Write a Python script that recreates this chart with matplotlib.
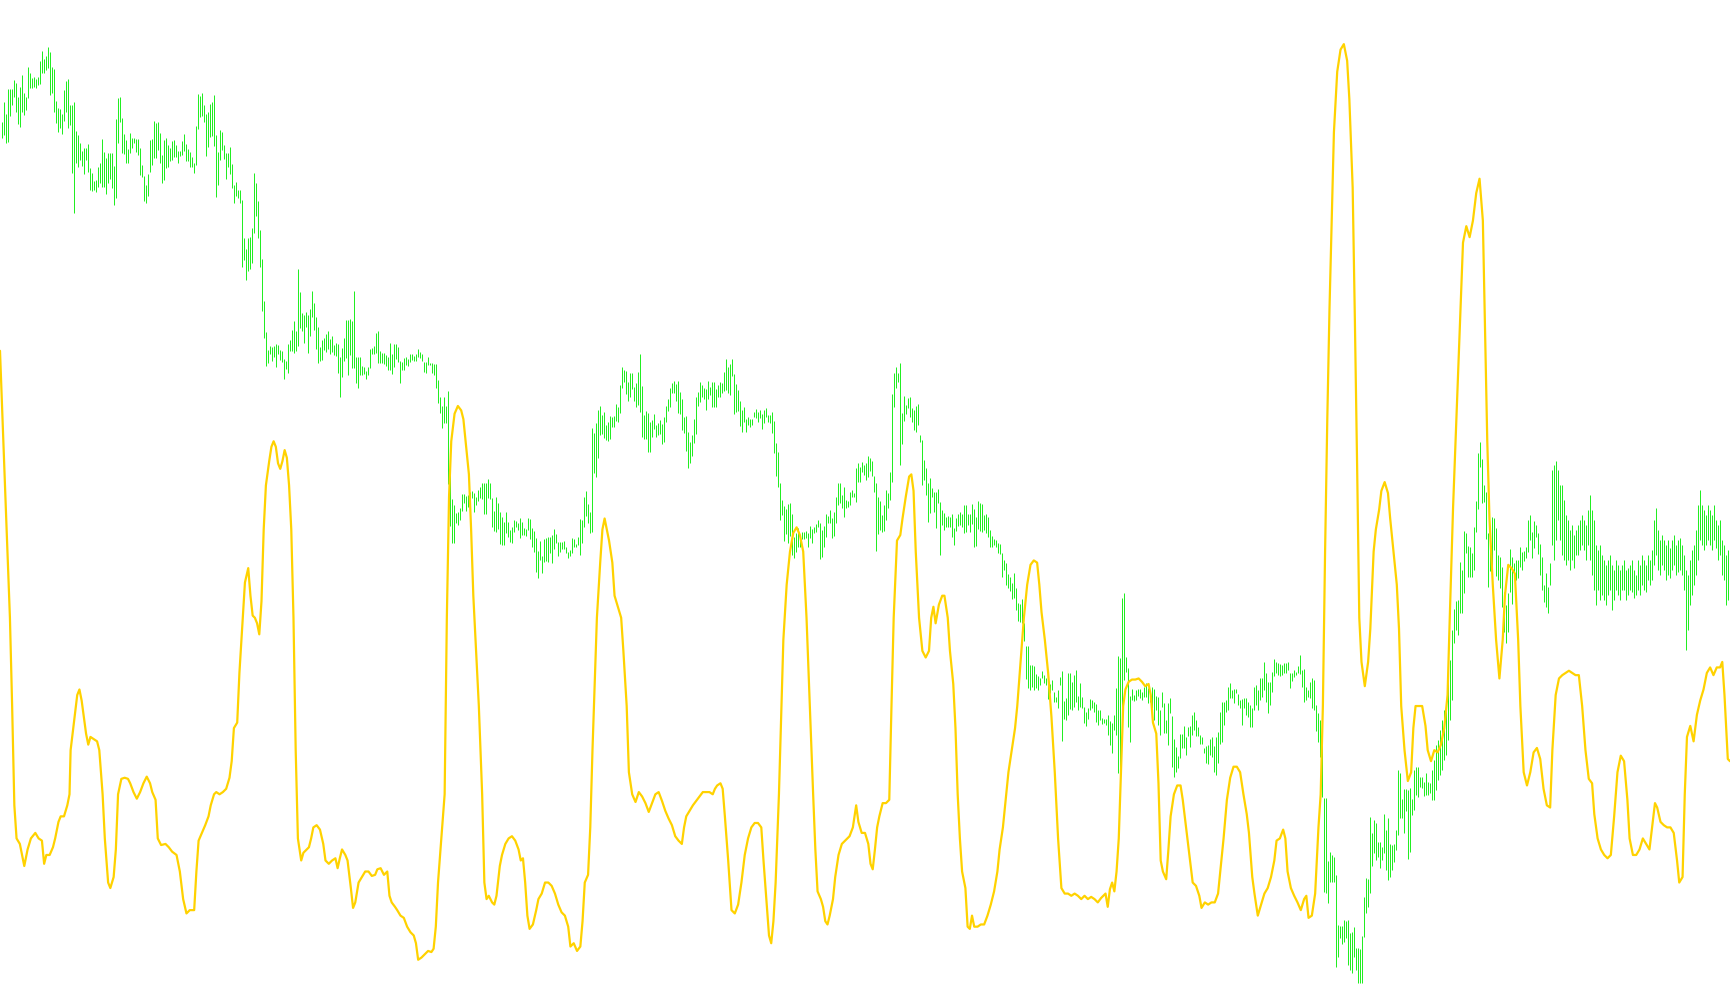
import numpy as np
import matplotlib
matplotlib.use("Agg")
import matplotlib.pyplot as plt

# green price bars: top and bottom of each bar (screen-style values, larger = lower)
green_high = [
# 0-79
122,102,114,89,89,89,80,83,97,87,75,93,97,67,73,78,77,79,77,61,
51,59,56,47,52,67,69,101,108,109,114,90,81,79,105,105,102,131,135,143,
151,148,148,144,168,173,181,180,167,163,139,152,158,153,153,153,166,119,98,97,
118,134,140,149,133,138,138,139,139,148,165,176,185,174,140,139,121,123,122,133,
# 80-159
155,140,138,145,148,141,140,145,151,151,141,134,144,149,152,157,163,126,94,96,
93,105,114,112,104,102,95,135,152,130,132,145,153,153,147,164,185,182,190,190,
200,238,249,238,237,228,173,183,201,230,259,301,332,350,346,347,346,344,345,350,
351,359,361,344,340,330,321,331,269,292,313,315,312,315,309,291,303,317,327,347,
# 160-236
340,338,334,331,339,336,345,343,344,357,348,338,320,320,319,321,291,357,357,357,
366,367,371,367,349,348,346,333,331,351,353,353,355,357,343,354,344,344,347,361,
362,358,357,359,354,354,356,354,349,352,354,362,362,357,363,363,364,364,380,397,
406,397,406,391,455,499,505,513,512,508,494,494,496,495,492,491,493,
# 237-314
497,490,487,483,483,483,479,483,498,511,497,503,512,517,522,512,522,530,527,520,
521,523,518,522,528,529,518,519,528,531,538,551,541,556,539,538,537,537,535,529,
534,542,542,542,541,547,552,550,538,539,544,537,519,520,497,491,504,512,428,433,
423,410,406,415,412,425,422,416,417,416,404,407,385,367,370,371,382,373,
# 315-394
373,387,383,372,354,386,415,411,413,422,420,414,425,423,420,424,417,406,399,388,
383,381,384,381,392,399,417,416,432,442,435,419,397,392,382,385,388,389,381,387,
382,382,389,385,382,383,372,359,367,364,359,374,384,390,401,410,407,419,417,419,
419,412,409,412,410,414,410,408,415,415,412,421,443,452,483,500,506,509,504,503,
# 395-474
514,537,533,528,537,532,532,531,533,526,529,527,524,520,523,530,526,514,516,510,
518,512,497,483,483,495,487,500,501,492,490,493,468,463,467,462,465,463,456,458,
461,476,483,497,501,515,505,490,493,472,394,373,367,373,363,413,396,405,398,397,
408,410,406,404,435,440,460,468,483,478,488,492,492,489,502,510,513,517,516,517,
# 475-554
514,528,518,514,512,514,505,505,514,514,504,509,517,501,503,504,515,514,517,530,
536,539,540,543,544,553,560,563,574,577,583,573,588,603,604,599,623,646,646,665,
665,666,674,676,678,671,675,678,683,684,680,692,697,690,677,671,701,698,673,673,
682,675,670,696,683,697,707,712,708,699,700,702,704,710,710,718,719,719,715,721,
# 555-634
723,715,688,656,658,598,593,657,668,696,689,695,690,689,689,692,687,683,688,693,
687,689,696,697,710,692,703,720,703,698,716,739,747,756,734,734,726,737,727,726,
715,712,720,727,735,737,748,746,745,739,737,746,737,732,712,702,702,700,687,683,
690,689,689,694,700,699,698,698,702,705,708,687,685,690,678,678,662,673,682,682,
# 635-714
672,659,662,663,664,665,663,663,662,673,673,670,672,666,655,670,669,687,690,682,
678,680,705,713,720,712,798,798,861,852,855,857,875,925,926,926,920,921,920,933,
932,927,948,948,949,936,897,878,879,817,833,820,823,842,842,847,814,830,818,844,
845,844,830,770,773,799,789,789,790,788,799,770,767,767,777,777,782,773,782,783,
# 715-725
770,760,745,740,730,720,710,700,680,660,630,
# 726-774
609,601,600,562,570,531,533,546,547,553,527,501,453,442,459,485,492,533,533,517,
518,528,555,557,567,592,605,593,549,557,563,560,560,547,552,551,547,520,515,532,
521,525,533,544,557,585,573,587,563,
# 775-863
470,465,461,470,485,485,500,515,520,530,525,535,530,525,520,515,520,525,510,495,
510,520,545,550,545,555,560,565,560,555,565,570,560,565,570,565,560,570,568,565,
560,570,575,560,565,555,560,565,555,560,550,520,508,530,540,535,540,545,540,548,
540,535,545,540,538,545,555,570,575,560,550,545,530,505,490,505,510,515,505,510,
515,505,520,525,520,540,545,555,550,
]
green_low = [
# 0-79
138,135,143,142,116,105,97,112,124,127,112,115,110,98,88,88,87,88,85,84,
73,73,70,68,95,93,112,123,132,128,134,121,112,128,125,173,213,163,167,160,
166,174,160,172,190,191,190,192,187,183,187,187,194,183,179,188,205,198,143,122,
153,154,163,163,153,148,143,152,155,175,177,201,203,196,172,165,158,158,150,163,
# 80-159
183,180,168,167,161,160,157,157,163,156,155,151,161,161,167,167,173,165,129,117,
116,122,156,147,137,136,146,197,185,160,150,159,179,167,174,188,203,196,198,203,
267,260,280,271,269,263,233,216,238,267,311,338,366,363,354,361,357,367,354,360,
362,379,369,373,351,351,353,351,346,328,331,343,327,353,336,317,330,349,363,361,
# 160-236
360,350,352,349,354,352,355,356,373,397,377,361,358,375,355,368,368,383,388,375,
375,374,379,375,368,354,354,353,363,363,363,364,366,370,370,374,367,359,362,383,
370,370,365,366,362,360,361,361,357,358,361,372,373,365,365,373,375,388,403,413,
428,423,423,484,526,543,543,523,525,520,511,503,511,507,502,498,512,
# 237-314
505,501,498,499,514,514,498,499,527,531,532,529,544,545,545,533,537,542,543,532,
527,530,538,535,535,536,530,539,547,552,572,578,560,573,562,561,562,553,563,549,
543,556,552,549,549,553,558,556,553,547,547,545,555,543,527,516,523,533,532,473,
477,458,435,434,438,440,441,439,427,427,421,422,413,388,382,394,401,397,
# 315-394
389,401,407,405,412,437,439,439,452,452,437,429,437,435,434,444,442,422,411,407,
393,393,401,413,414,430,433,451,468,463,456,443,434,406,402,397,399,410,399,395,
407,407,407,397,397,393,391,390,393,395,376,414,412,411,426,432,422,432,425,427,
425,417,418,422,418,429,423,417,422,423,433,453,476,487,520,515,541,534,543,536,
# 395-474
555,558,552,547,547,539,539,538,547,538,543,533,532,527,559,557,547,537,523,523,
538,536,523,505,503,508,517,508,507,505,497,497,502,482,482,472,475,480,477,471,
476,492,551,534,530,532,531,520,508,500,482,407,388,382,465,444,421,414,408,417,
422,430,432,425,442,485,480,495,522,513,497,512,528,503,555,525,530,527,527,527,
# 475-554
537,545,531,526,525,527,533,532,525,532,524,547,546,529,531,532,530,533,537,547,
547,545,547,553,554,577,570,585,588,591,599,598,610,621,622,623,641,679,688,690,
687,690,688,690,685,678,683,685,699,693,690,702,702,708,685,741,719,720,715,709,
710,707,702,710,707,708,723,726,719,710,708,712,722,725,720,724,723,725,735,745,
# 555-634
753,730,735,773,772,712,680,672,727,742,700,701,700,696,698,700,697,697,703,702,
708,720,710,725,735,707,733,733,745,713,767,777,772,768,758,748,748,755,736,747,
735,730,736,736,744,744,753,763,764,755,757,772,775,763,744,742,725,712,710,698,
698,703,693,705,708,725,708,715,717,727,727,710,705,710,700,697,690,702,713,705,
# 635-714
692,676,673,675,676,675,673,673,670,688,681,677,675,673,674,687,702,700,697,698,
708,710,731,742,757,797,892,893,903,882,882,882,967,957,938,944,942,938,965,970,
973,957,970,983,983,983,937,913,907,893,866,853,860,857,868,860,853,870,880,877,
870,862,850,835,818,818,833,811,859,852,815,810,795,797,787,788,796,795,795,793,
# 715-725
800,800,790,780,775,770,760,755,740,720,700,
# 726-774
643,630,635,613,613,593,553,577,577,577,570,532,509,467,503,502,539,587,571,568,
550,576,580,588,607,632,643,632,592,604,575,580,578,567,570,561,558,552,540,558,
548,537,554,575,590,602,607,613,585,
# 775-863
545,560,540,520,540,555,560,565,560,570,560,568,555,555,550,545,550,560,545,560,
575,590,605,590,600,595,600,605,595,590,610,600,590,595,600,590,590,600,595,590,
592,598,595,590,595,585,590,592,580,585,580,565,555,570,575,565,570,580,575,578,
570,565,575,572,570,575,590,650,630,605,595,585,575,560,540,545,550,545,540,545,
550,540,548,560,555,575,580,605,600,
]

# yellow indicator line: time position and level
yellow_t = [
0,3,6,9,11,13,15,18,20,22,25,28,32,35,38,40,42,45,48,50,53,55,58,61,63,64,67,70,72,74,
76,78,80,82,85,88,90,93,95,98,100,103,105,107,110,113,116,118,121,124,127,130,133,136,138,141,143,146,150,153,
156,160,163,166,169,172,176,178,180,183,186,189,191,194,196,199,202,205,208,210,212,215,217,220,222,225,227,229,231,233,
235,237,239,241,244,246,248,250,252,254,256,258,260,262,264,266,268,270,273,275,278,280,282,284,287,290,293,295,298,301,
304,306,308,310,313,315,318,320,322,325,328,331,334,337,340,342,345,348,351,353,355,358,360,363,366,369,372,375,377,379,
382,385,388,391,393,395,397,400,403,405,407,409,412,415,418,420,422,425,427,429,431,434,437,439,441,443,446,448,450,453,
455,458,461,464,467,470,472,474,476,478,480,483,486,488,491,494,497,500,503,506,509,512,515,517,520,523,526,528,530,533,
535,537,539,541,544,546,548,550,552,555,557,560,563,565,568,570,573,576,579,582,585,588,591,594,597,600,603,606,609,612,
615,618,620,622,625,628,631,634,637,640,643,646,648,650,653,655,657,660,663,666,669,672,675,678,681,684,687,690,692,695,
697,699,701,703,706,708,710,713,716,719,722,725,728,731,734,737,739,741,744,746,748,750,752,755,757,760,763,766,770,773,
776,778,781,784,787,789,791,793,795,797,800,803,806,808,810,813,816,818,821,824,826,828,830,833,836,839,842,844,846,848,
851,854,856,859,861,864,866,868,870,872,875,877,879,881,883,886,889,892,895,898,901,904,906,909,912,914,917,920,922,925,
928,931,934,937,940,942,944,947,950,953,956,959,962,965,968,971,974,977,980,983,986,989,992,995,998,1000,1002,1004,1006,1008,
1010,1012,1014,1016,1018,1020,1023,1026,1029,1032,1035,1038,1041,1043,1045,1048,1050,1052,1054,1057,1059,1061,1064,1067,1070,1072,1075,1078,1081,1084,
1087,1089,1092,1095,1098,1101,1104,1106,1109,1112,1115,1118,1121,1124,1127,1130,1132,1135,1137,1140,1143,1146,1149,1152,1155,1157,1160,1163,1165,1167,
1170,1173,1176,1179,1182,1184,1186,1189,1192,1195,1197,1199,1201,1203,1205,1207,1209,1212,1215,1218,1221,1223,1226,1228,1230,1232,1234,1237,1240,1242,
1245,1247,1250,1252,1255,1258,1260,1263,1266,1268,1270,1273,1276,1279,1281,1283,1286,1289,1292,1294,1297,1300,1303,1306,1309,1312,1314,1317,1320,1323,
1326,1329,1332,1335,1338,1341,1344,1346,1348,1350,1353,1356,1359,1362,1364,1367,1370,1373,1376,1378,1381,1384,1387,1390,1393,1396,1399,1402,1405,1407,
1410,1413,1416,1419,1422,1425,1428,1431,1434,1437,1440,1443,1445,1448,1451,1454,1457,1460,1463,1466,1469,1472,1475,1477,1480,1483,1486,1489,1492,1495,
1498,1500,1502,1505,1508,1511,1514,1517,1520,1522,1525,1527,1529,1532,1535,1538,1541,1544,1547,1550,1553,1556,1559,1561,1563,1566,1568,
]
yellow_v = [
318,400,480,560,640,730,760,765,775,785,770,760,755,760,762,783,775,775,768,760,745,740,740,730,720,680,655,630,625,635,
650,665,675,668,670,672,680,720,760,800,805,795,770,720,706,705,706,710,718,724,718,710,704,710,718,725,760,766,765,768,
772,775,790,815,828,825,825,790,762,755,748,740,730,720,718,720,718,715,705,690,660,655,610,560,528,515,540,558,560,565,
575,545,480,440,418,405,400,405,420,425,418,408,415,440,480,560,680,760,780,773,770,768,760,750,748,752,765,780,783,780,
778,787,778,770,775,780,805,823,818,800,795,790,790,794,793,788,787,793,790,812,818,822,825,830,832,840,845,848,855,870,
868,865,862,863,860,840,800,760,720,560,450,400,375,368,372,380,400,430,480,540,580,640,720,800,815,812,818,820,812,785,
775,765,760,758,762,770,780,778,800,830,842,838,825,815,810,800,800,803,810,820,827,830,840,858,855,862,858,835,800,793,
750,680,620,560,510,480,470,480,490,510,540,550,560,590,640,700,720,727,718,722,728,736,728,720,718,726,735,742,748,758,
762,765,750,740,735,730,726,722,718,718,718,720,715,712,710,715,740,780,825,828,820,800,775,760,750,746,746,750,780,820,
848,855,835,800,720,650,580,530,500,483,478,485,500,560,640,720,770,808,815,822,835,838,830,815,795,775,765,762,758,750,
730,745,755,755,765,783,788,770,750,740,728,728,725,640,560,490,485,470,450,432,430,445,500,560,590,596,590,560,550,565,
548,540,540,560,590,620,660,720,760,790,805,840,842,830,840,840,838,838,830,820,808,790,770,750,720,700,680,660,640,600,
560,530,512,508,510,530,555,580,610,650,700,760,805,810,810,812,810,812,815,812,815,813,815,818,814,812,810,822,806,800,
808,790,760,700,640,625,618,616,616,615,618,622,620,630,655,665,710,780,790,797,770,740,720,712,712,725,750,775,800,803,
812,823,818,820,818,818,810,790,760,725,705,695,695,700,720,738,755,795,810,830,820,810,805,795,780,762,760,752,760,790,
805,812,818,825,815,812,832,830,810,750,720,640,500,380,280,200,120,65,45,40,55,90,170,290,420,560,600,622,600,570,
500,480,462,445,437,447,470,500,530,570,640,680,708,700,660,640,640,640,658,680,690,680,682,675,660,630,560,460,380,300,
220,205,215,200,175,162,200,300,400,470,530,580,615,580,540,512,515,520,580,640,700,712,700,682,678,688,715,730,732,680,
630,615,612,610,608,610,612,612,640,680,706,710,738,760,770,775,778,775,740,700,685,690,725,760,775,775,770,760,765,770,
745,728,732,745,748,750,750,755,780,800,795,720,668,658,672,648,635,625,610,605,612,605,605,600,630,688,690,
]

fig = plt.figure(figsize=(17.30, 10.05), dpi=100)

ax = fig.add_axes([0, 0, 1, 1])
ax.set_axis_off()
idx = np.arange(len(green_high))
ax.vlines(idx, green_high, green_low, colors="#22EE22", linewidth=0.72)
ax.set_xlim(-0.75, 864.25)
ax.set_ylim(1005, 0)

ax2 = fig.add_axes([0, 0, 1, 1], frameon=False)
ax2.set_axis_off()
ax2.plot(yellow_t, yellow_v, color="#FFD200", linewidth=1.6,
         solid_joinstyle="round", solid_capstyle="round")
ax2.set_xlim(0, 1568)
ax2.set_ylim(911, 0)

fig.savefig("out.png", dpi=100, facecolor="white")
